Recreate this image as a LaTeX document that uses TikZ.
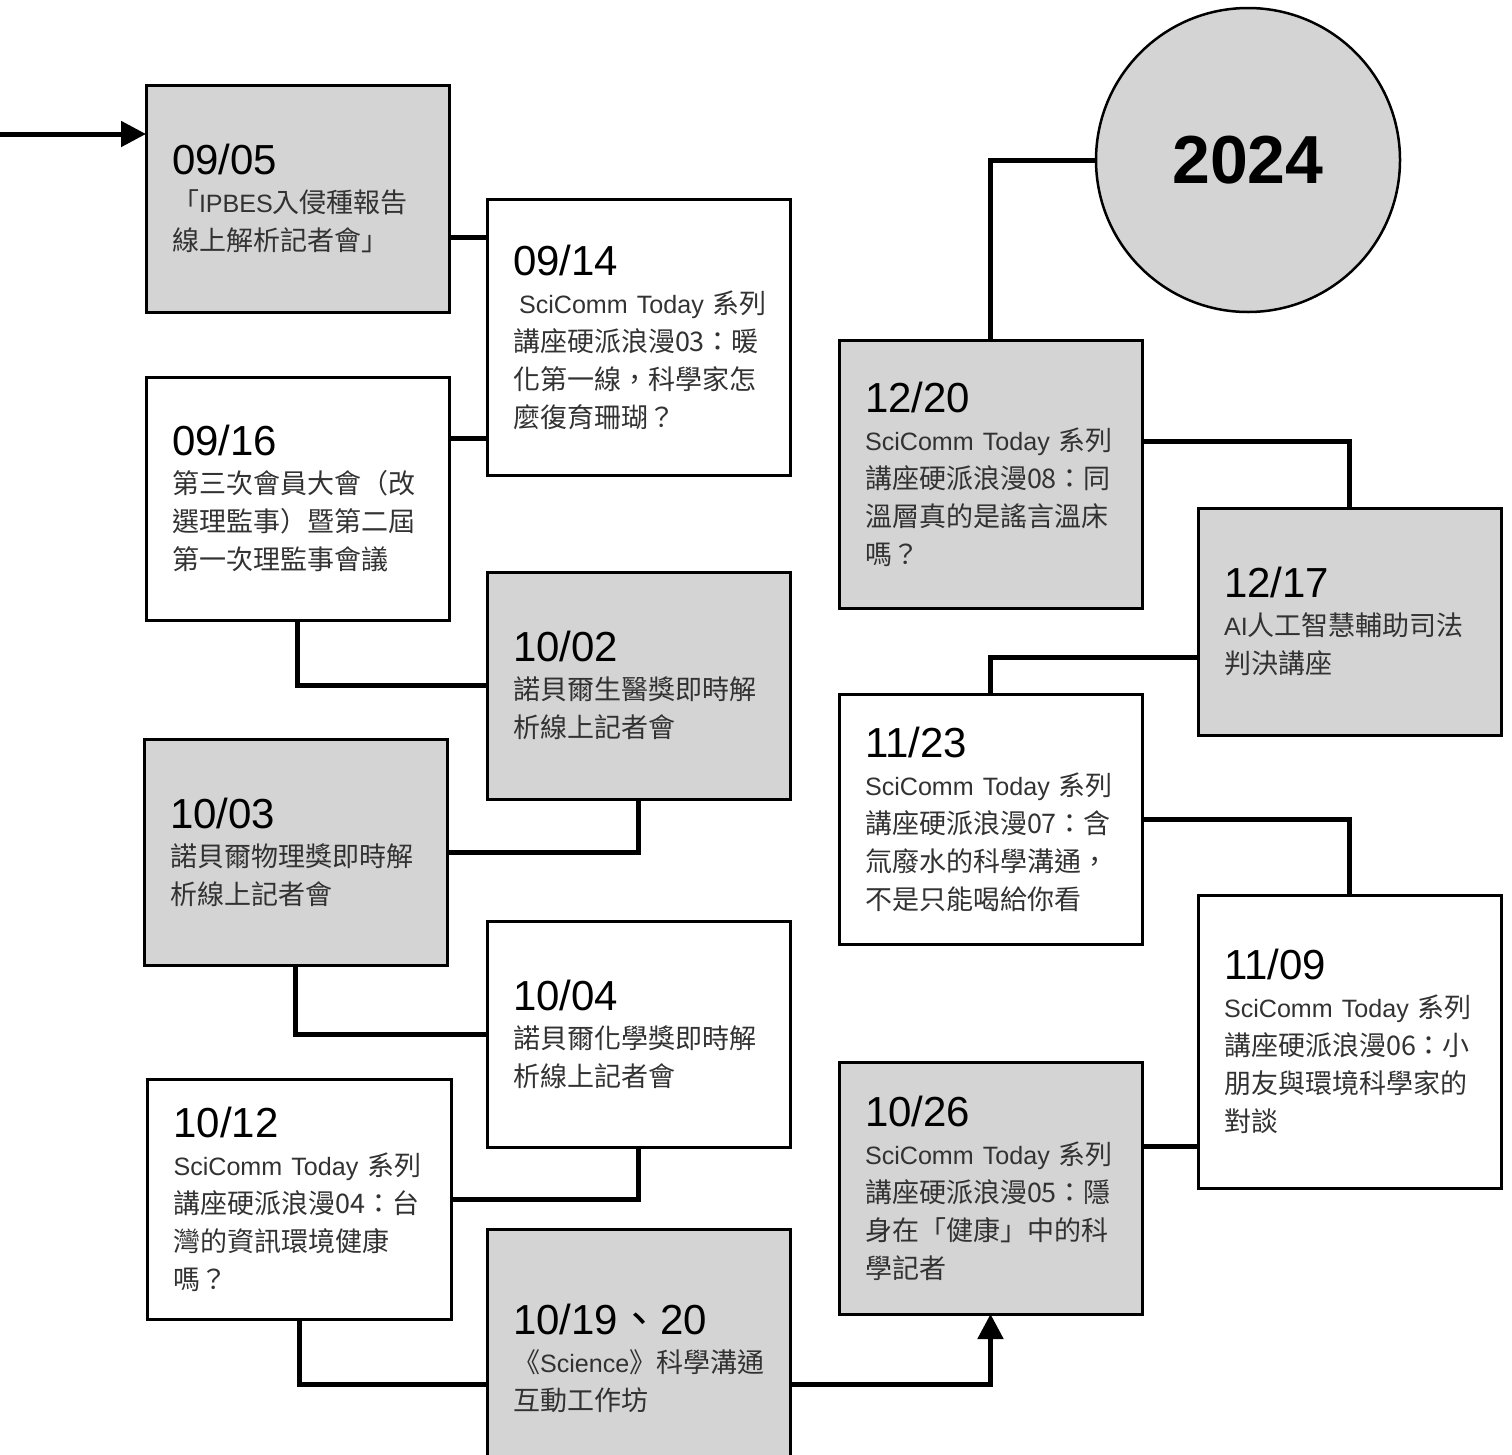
\documentclass[tikz,border=0pt]{standalone}
\usepackage{fontspec}
\setmainfont{Noto Sans CJK TC}
\newfontfamily\yearfont{Liberation Sans}
\newfontfamily\latinfont{Liberation Sans}[Scale=0.93]
\newfontfamily\datefont{Liberation Sans}
\usetikzlibrary{arrows.meta}
\definecolor{boxgray}{RGB}{212,212,212}
\definecolor{inkgray}{RGB}{50,50,50}
\hyphenpenalty=10000
\newcommand{\evdate}[1]{{\datefont\fontsize{42}{38}\selectfont\color{black}#1}\\}

\begin{document}
\begin{tikzpicture}[x=1pt,y=-1pt]
  \tikzstyle{event}=[draw=black,line width=3pt,anchor=north west,outer sep=0pt,minimum width=303pt,inner xsep=26pt,inner ysep=0pt,text width=251pt,align=left,text=inkgray,font=\fontsize{27}{38}\selectfont]
  \tikzstyle{past}=[event,fill=boxgray]
  \tikzstyle{link}=[line width=5pt]
  \tikzstyle{go}=[link,-{Triangle[length=25pt,width=25pt]}]

  \useasboundingbox (0,0) rectangle (1512,1454);

  % left column
  \node[past,minimum height=227pt] (d0905) at (146,85) {\evdate{09/05}「{\latinfont IPBES}入侵種報告\\線上解析記者會」};
  \node[event,minimum height=243pt] (d0916) at (146,377) {\evdate{09/16}第三次會員大會（改\\選理監事）暨第二屆\\第一次理監事會議};
  \node[past,minimum height=226pt,minimum width=302pt] (d1003) at (144,739) {\evdate{10/03}諾貝爾物理獎即時解\\析線上記者會};
  \node[event,minimum height=240pt,minimum width=304pt] (d1012) at (147,1079) {\evdate{10/12}{\latinfont SciComm~Today}~系列\\講座硬派浪漫04：台\\灣的資訊環境健康\\嗎？};

  % middle column
  \node[event,minimum height=276pt,minimum width=302pt] (d0914) at (487,199) {\evdate{09/14}\hspace*{6pt}{\latinfont SciComm~Today}~系列\\講座硬派浪漫03：暖\\化第一線，科學家怎\\麼復育珊瑚？};
  \node[past,minimum height=227pt,minimum width=302pt] (d1002) at (487,572) {\evdate{10/02}諾貝爾生醫獎即時解\\析線上記者會};
  \node[event,minimum height=226pt,minimum width=302pt] (d1004) at (487,921) {\evdate{10/04}諾貝爾化學獎即時解\\析線上記者會};
  \node[past,minimum height=258pt,minimum width=302pt] (d1019) at (487,1229) {\evdate{10/19{\rmfamily 、}20}《{\latinfont Science}》科學溝通\\互動工作坊};

  % right columns
  \node[past,minimum height=252pt] (d1026) at (839,1062) {\evdate{10/26}{\latinfont SciComm~Today}~系列\\講座硬派浪漫05：隱\\身在「健康」中的科\\學記者};
  \node[event,minimum height=293pt] (d1109) at (1198,895) {\evdate{11/09}{\latinfont SciComm~Today}~系列\\講座硬派浪漫06：小\\朋友與環境科學家的\\對談};
  \node[event,minimum height=250pt] (d1123) at (839,694) {\evdate{11/23}{\latinfont SciComm~Today}~系列\\講座硬派浪漫07：含\\氚廢水的科學溝通，\\不是只能喝給你看};
  \node[past,minimum height=227pt] (d1217) at (1198,508) {\evdate{12/17}{\latinfont AI}人工智慧輔助司法\\判決講座};
  \node[past,minimum height=268pt] (d1220) at (839,340) {\evdate{12/20}{\latinfont SciComm~Today}~系列\\講座硬派浪漫08：同\\溫層真的是謠言溫床\\嗎？};

  \node[circle,draw=black,line width=2.5pt,fill=boxgray,minimum size=304pt,inner sep=0pt,outer sep=0pt,font=\yearfont\bfseries\fontsize{68}{68}\selectfont] (yr) at (1248,160) {2024};

  % joints off the middle of a side
  \coordinate (start) at (0,134);
  \coordinate (j0905) at ([yshift=-38.5pt]d0905.east);
  \coordinate (j0916) at ([yshift=60.5pt]d0916.east);
  \coordinate (j1019w) at ([yshift=-26pt]d1019.west);
  \coordinate (j1019e) at ([yshift=-26pt]d1019.east);
  \coordinate (j1026) at ([yshift=42pt]d1026.east);
  \coordinate (j1217) at ([yshift=-35.5pt]d1217.west);
  \coordinate (j1220) at ([yshift=33pt]d1220.east);

  \draw[go] (start) -- (start -| d0905.west);
  \foreach \from/\to in {j0905/d0914, j0916/d0914, j1026/d1109}
    \draw[link] (\from) -- (\from -| \to.west);
  \foreach \from/\to in {d0916.south/d1002.west, d1002.south/d1003.east, d1003.south/d1004.west, d1004.south/d1012.east, d1012.south/j1019w, d1109.north/d1123.east, d1123.north/j1217, d1217.north/j1220, d1220.north/yr.west}
    \draw[link] (\from) |- (\to);
  \draw[go] (j1019e) -| (d1026.south);
\end{tikzpicture}
\end{document}
